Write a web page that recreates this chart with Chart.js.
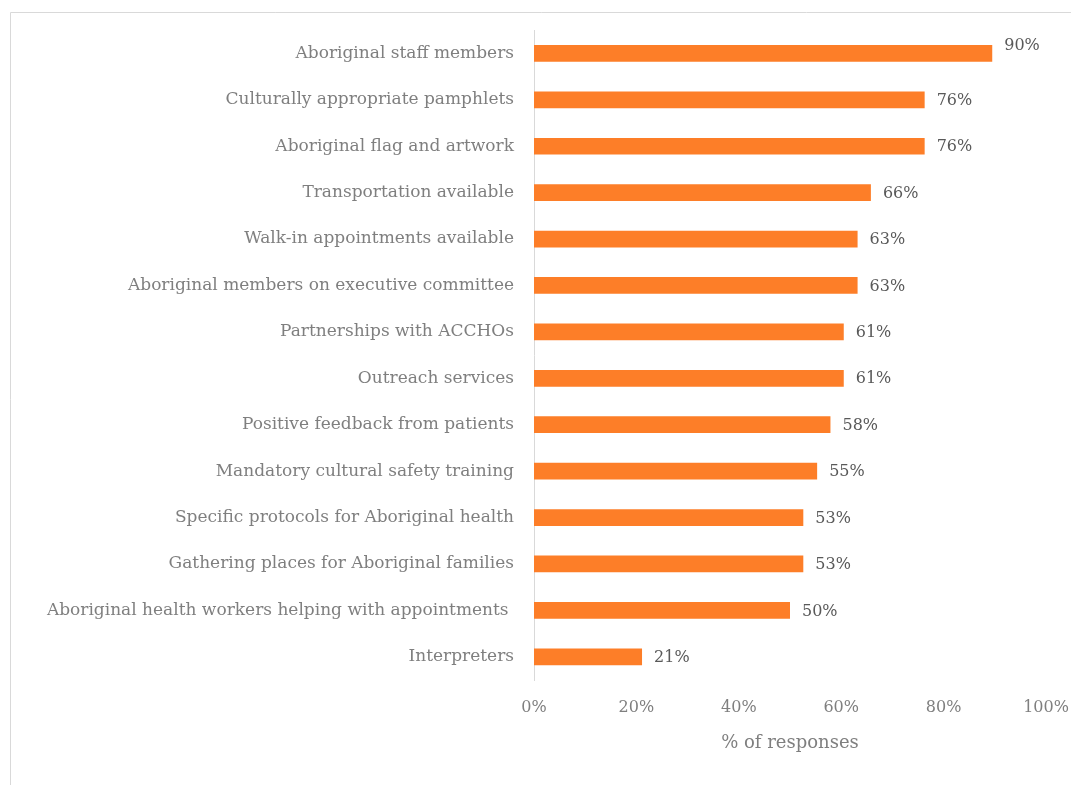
<!DOCTYPE html>
<html>
<head>
<meta charset="utf-8">
<script src="https://cdn.jsdelivr.net/npm/chart.js@4"></script>
<style>
  html, body { margin: 0; padding: 0; background: #fff; }
  #wrap { width: 1071px; height: 785px; position: relative; }
</style>
</head>
<body>
<div id="wrap"><canvas id="myChart"></canvas></div>
<script>
var categories = [
    'Aboriginal staff members',
    'Culturally appropriate pamphlets',
    'Aboriginal flag and artwork',
    'Transportation available',
    'Walk-in appointments available',
    'Aboriginal members on executive committee',
    'Partnerships with ACCHOs',
    'Outreach services',
    'Positive feedback from patients',
    'Mandatory cultural safety training',
    'Specific protocols for Aboriginal health',
    'Gathering places for Aboriginal families',
    'Aboriginal health workers helping with appointments ',
    'Interpreters'
]
// % of responses
var responses = [89.5, 76.3, 76.3, 65.8, 63.2, 63.2, 60.5, 60.5, 57.9, 55.3, 52.6, 52.6, 50.0, 21.1]
var xTicks = [0, 20, 40, 60, 80, 100]

var fontName = "'DejaVu Serif', serif"
var textGrey = '#7f7f7f'

// frame round the chart, like the office chart border
var framePlugin = {
    id: 'frame',
    beforeDraw: function (chart) {
        var ctx = chart.ctx
        ctx.save()
        ctx.strokeStyle = '#d9d9d9'
        ctx.lineWidth = 1
        ctx.beginPath()
        ctx.moveTo(10.5, chart.height + 5)
        ctx.lineTo(10.5, 12.5)
        ctx.lineTo(chart.width + 5, 12.5)
        ctx.stroke()
        ctx.restore()
    }
}

// value labels at the end of each bar
var valueLabels = {
    id: 'valueLabels',
    afterDatasetsDraw: function (chart) {
        var ctx = chart.ctx
        var meta = chart.getDatasetMeta(0)
        ctx.save()
        ctx.font = '16px ' + fontName
        ctx.fillStyle = '#595959'
        ctx.textAlign = 'left'
        ctx.textBaseline = 'middle'
        meta.data.forEach(function (bar, i) {
            var dy = i == 0 ? -8 : 1
            ctx.fillText(Math.round(responses[i]) + '%', bar.x + 12, bar.y + dy)
        })
        ctx.restore()
    }
}

var myChart = document.getElementById('myChart').getContext('2d')
var barChart = new Chart(myChart, {
    type: 'bar',
    data: {
        labels: categories,
        datasets: [{
            data: responses,
            backgroundColor: '#fd7e28',
            borderWidth: 0,
            barPercentage: 0.72,
            categoryPercentage: 0.5
        }]
    },
    options: {
        indexAxis: 'y',
        responsive: true,
        maintainAspectRatio: false,
        animation: false,
        layout: { padding: { top: 30, right: 25, left: 0, bottom: 0 } },
        plugins: {
            legend: { display: false },
            tooltip: { enabled: false }
        },
        scales: {
            x: {
                min: 0,
                max: 100,
                afterBuildTicks: function (scale) {
                    scale.ticks = xTicks.map(function (v) { return { value: v } })
                },
                afterFit: function (scale) {
                    scale.height = 105
                    scale.paddingLeft = 0
                    scale.paddingRight = 0
                },
                grid: { display: false, drawTicks: false },
                border: { display: false },
                ticks: {
                    padding: 18,
                    color: textGrey,
                    font: { family: fontName, size: 16 },
                    callback: function (v) { return v + '%' }
                },
                title: {
                    display: true,
                    text: '% of responses',
                    color: textGrey,
                    font: { family: fontName, size: 18 },
                    padding: { top: 0, bottom: 31 }
                }
            },
            y: {
                afterFit: function (scale) { scale.width = 534 },
                grid: { display: false, drawTicks: false },
                border: { display: true, color: '#d9d9d9', width: 1 },
                ticks: {
                    padding: 20,
                    color: textGrey,
                    font: { family: fontName, size: 17 }
                }
            }
        }
    },
    plugins: [framePlugin, valueLabels]
})
</script>
</body>
</html>
